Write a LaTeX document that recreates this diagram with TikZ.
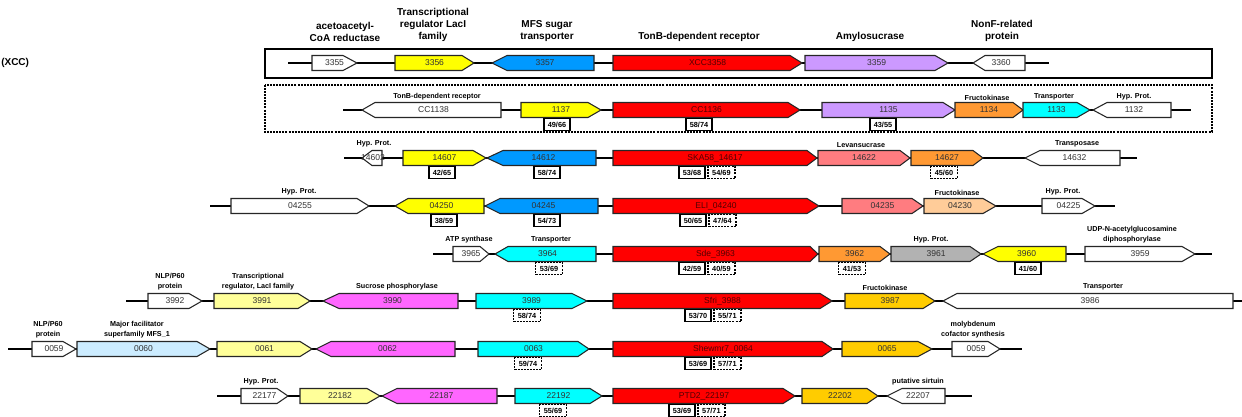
\documentclass[tikz,border=0pt]{standalone}
\usepackage{fontspec}
\setmainfont{Liberation Sans}
\usetikzlibrary{positioning}
\definecolor{cYel}{HTML}{FFFF00}
\definecolor{cBlue}{HTML}{0099FF}
\definecolor{cRed}{HTML}{FF0000}
\definecolor{cDkRed}{HTML}{520000}
\definecolor{cPurple}{HTML}{CC99FF}
\definecolor{cOrange}{HTML}{FF9933}
\definecolor{cCyan}{HTML}{00FFFF}
\definecolor{cSalmon}{HTML}{FF7C80}
\definecolor{cPeach}{HTML}{FFCC99}
\definecolor{cGray}{HTML}{B2B2B2}
\definecolor{cLtYel}{HTML}{FFFF99}
\definecolor{cMagenta}{HTML}{FF66FF}
\definecolor{cGold}{HTML}{FFCC00}
\definecolor{cLtBlue}{HTML}{CCECFF}

\begin{document}
\begin{tikzpicture}[x=0.75pt,y=0.75pt,yscale=-1,xscale=1,
  backbone/.style={line width=1pt,black},
  gene/.style={draw=black!85,line width=0.8pt},
  gtxt/.style={font=\fontsize{6.4}{7}\selectfont,text=black!80,inner sep=0pt},
  rtxt/.style={gtxt,text=cDkRed},
  biglbl/.style={font=\bfseries\fontsize{7.5}{9}\selectfont,align=center,anchor=south,inner sep=0pt},
  lbl/.style={font=\bfseries\fontsize{5.4}{7.5}\selectfont,align=center,anchor=south,inner sep=0pt},
  idsolid/.style={draw,line width=1.3pt,fill=white,minimum width=20pt,minimum height=9pt,inner sep=0pt,font=\bfseries\fontsize{5.5}{6}\selectfont},
  iddot/.style={idsolid,line width=1.2pt,dash pattern=on 1.5pt off 0.8pt},
  frame/.style={line width=1.5pt}]
\useasboundingbox (0,0) rectangle (1242,417);

% frames around the Xanthomonas and Caulobacter clusters
\draw[frame] (265,49) rectangle (1212,78);
\draw[frame,dash pattern=on 1.5pt off 0.8pt] (265,85) rectangle (1212,132);
\node[font=\bfseries\fontsize{7.5}{9}\selectfont,anchor=west,inner sep=0pt] (xcc) at (1,63) {(XCC)};

% backbones
\coordinate (r1a) at (288,63);  \coordinate (r1b) at (1049,63);
\coordinate (r2a) at (343,110); \coordinate (r2b) at (1191,110);
\coordinate (r3a) at (344,158); \coordinate (r3b) at (1137,158);
\coordinate (r4a) at (210,206); \coordinate (r4b) at (1115,206);
\coordinate (r5a) at (433,254); \coordinate (r5b) at (1212,254);
\coordinate (r6a) at (126,301); \coordinate (r6b) at (1242,301);
\coordinate (r7a) at (8,349);   \coordinate (r7b) at (1022,349);
\coordinate (r8a) at (217,396); \coordinate (r8b) at (972,396);
\draw[backbone] (r1a) -- (r1b);
\draw[backbone] (r2a) -- (r2b);
\draw[backbone] (r3a) -- (r3b);
\draw[backbone] (r4a) -- (r4b);
\draw[backbone] (r5a) -- (r5b);
\draw[backbone] (r6a) -- (r6b);
\draw[backbone] (r7a) -- (r7b);
\draw[backbone] (r8a) -- (r8b);

% row 1
\draw[gene,fill=white] (312,55.5) -- (343,55.5) -- (357,63) -- (343,70.5) -- (312,70.5) -- cycle;
\node[gtxt] (g3355) at (334.5,63) {3355};
\draw[gene,fill=cYel] (395,55.5) -- (462,55.5) -- (474,63) -- (462,70.5) -- (395,70.5) -- cycle;
\node[gtxt] (g3356) at (434.5,63) {3356};
\draw[gene,fill=cBlue] (492,63) -- (507,55.5) -- (594,55.5) -- (594,70.5) -- (507,70.5) -- cycle;
\node[gtxt] (g3357) at (545,63) {3357};
\draw[gene,fill=cRed] (613,55.5) -- (790,55.5) -- (802,63) -- (790,70.5) -- (613,70.5) -- cycle;
\node[rtxt] (g3358) at (707.5,63) {XCC3358};
\draw[gene,fill=cPurple] (805,55.5) -- (935,55.5) -- (948,63) -- (935,70.5) -- (805,70.5) -- cycle;
\node[gtxt] (g3359) at (876.5,63) {3359};
\draw[gene,fill=white] (973,63) -- (985,55.5) -- (1025,55.5) -- (1025,70.5) -- (985,70.5) -- cycle;
\node[gtxt] (g3360) at (1001,63) {3360};
\node[biglbl] (l3355) at (345,42) {acetoacetyl-\\CoA reductase};
\node[biglbl] (l3356) at (433,42) {Transcriptional\\regulator LacI\\family};
\node[biglbl] (l3357) at (547,42) {MFS sugar\\transporter};
\node[biglbl] (l3358) at (699,42) {TonB-dependent receptor};
\node[biglbl] (l3359) at (870,42) {Amylosucrase};
\node[biglbl] (l3360) at (1002,42) {NonF-related\\protein};

% row 2
\draw[gene,fill=white] (362,110) -- (375,102.5) -- (501,102.5) -- (501,117.5) -- (375,117.5) -- cycle;
\node[gtxt] (g1138) at (433.5,110) {CC1138};
\draw[gene,fill=cYel] (521,102.5) -- (588,102.5) -- (601,110) -- (588,117.5) -- (521,117.5) -- cycle;
\node[gtxt] (g1137) at (561,110) {1137};
\draw[gene,fill=cRed] (613,102.5) -- (788,102.5) -- (800,110) -- (788,117.5) -- (613,117.5) -- cycle;
\node[rtxt] (g1136) at (706.5,110) {CC1136};
\draw[gene,fill=cPurple] (822,102.5) -- (943,102.5) -- (955,110) -- (943,117.5) -- (822,117.5) -- cycle;
\node[gtxt] (g1135) at (888.5,110) {1135};
\draw[gene,fill=cOrange] (955,102.5) -- (1013,102.5) -- (1023,110) -- (1013,117.5) -- (955,117.5) -- cycle;
\node[gtxt] (g1134) at (989,110) {1134};
\draw[gene,fill=cCyan] (1023,102.5) -- (1077,102.5) -- (1090,110) -- (1077,117.5) -- (1023,117.5) -- cycle;
\node[gtxt] (g1133) at (1056.5,110) {1133};
\draw[gene,fill=white] (1093,110) -- (1107,102.5) -- (1171,102.5) -- (1171,117.5) -- (1107,117.5) -- cycle;
\node[gtxt] (g1132) at (1134,110) {1132};
\node[lbl] (l1138) at (437,100.5) {TonB-dependent receptor};
\node[lbl] (l1134) at (987,100.5) {Fructokinase};
\node[lbl] (l1133) at (1054,100.5) {Transporter};
\node[lbl] (l1132) at (1134,100.5) {Hyp. Prot.};
\node[idsolid] (i1137) at (557,124.5) {49/66};
\node[idsolid] (i1136) at (699,124.5) {58/74};
\node[idsolid] (i1135) at (883,124.5) {43/55};

% row 3
\draw[gene,fill=white] (362,158) -- (372,150.5) -- (382,150.5) -- (382,165.5) -- (372,165.5) -- cycle;
\node[gtxt] (g14602) at (373,158) {14602};
\draw[gene,fill=cYel] (403,150.5) -- (473,150.5) -- (486,158) -- (473,165.5) -- (403,165.5) -- cycle;
\node[gtxt] (g14607) at (444.5,158) {14607};
\draw[gene,fill=cBlue] (487,158) -- (503,150.5) -- (596,150.5) -- (596,165.5) -- (503,165.5) -- cycle;
\node[gtxt] (g14612) at (543.5,158) {14612};
\draw[gene,fill=cRed] (613,150.5) -- (807,150.5) -- (817,158) -- (807,165.5) -- (613,165.5) -- cycle;
\node[rtxt] (g14617) at (715,158) {SKA58\_14617};
\draw[gene,fill=cSalmon] (818,150.5) -- (900,150.5) -- (910,158) -- (900,165.5) -- (818,165.5) -- cycle;
\node[gtxt] (g14622) at (864,158) {14622};
\draw[gene,fill=cOrange] (911,150.5) -- (973,150.5) -- (983,158) -- (973,165.5) -- (911,165.5) -- cycle;
\node[gtxt] (g14627) at (947,158) {14627};
\draw[gene,fill=white] (1025,158) -- (1040,150.5) -- (1120,150.5) -- (1120,165.5) -- (1040,165.5) -- cycle;
\node[gtxt] (g14632) at (1074.5,158) {14632};
\node[lbl] (l14602) at (374,147.5) {Hyp. Prot.};
\node[lbl] (l14622) at (861,147.5) {Levansucrase};
\node[lbl] (l14632) at (1077,147.5) {Transposase};
\node[idsolid] (i14607) at (442,172.5) {42/65};
\node[idsolid] (i14612) at (547,172.5) {58/74};
\node[idsolid] (i14617) at (692,172.5) {53/68};
\node[iddot,right=0.8pt of i14617] (j14617) {54/69};
\node[iddot] (j14627) at (944,172.5) {45/60};

% row 4
\draw[gene,fill=white] (231,198.5) -- (357,198.5) -- (369,206) -- (357,213.5) -- (231,213.5) -- cycle;
\node[gtxt] (g04255) at (300,206) {04255};
\draw[gene,fill=cYel] (395,206) -- (408,198.5) -- (484,198.5) -- (484,213.5) -- (408,213.5) -- cycle;
\node[gtxt] (g04250) at (441.5,206) {04250};
\draw[gene,fill=cBlue] (485,206) -- (500,198.5) -- (598,198.5) -- (598,213.5) -- (500,213.5) -- cycle;
\node[gtxt] (g04245) at (543.5,206) {04245};
\draw[gene,fill=cRed] (613,198.5) -- (807,198.5) -- (819,206) -- (807,213.5) -- (613,213.5) -- cycle;
\node[rtxt] (g04240) at (716,206) {ELI\_04240};
\draw[gene,fill=cSalmon] (842,198.5) -- (912,198.5) -- (923,206) -- (912,213.5) -- (842,213.5) -- cycle;
\node[gtxt] (g04235) at (882.5,206) {04235};
\draw[gene,fill=cPeach] (924,198.5) -- (983,198.5) -- (996,206) -- (983,213.5) -- (924,213.5) -- cycle;
\node[gtxt] (g04230) at (960,206) {04230};
\draw[gene,fill=white] (1042,198.5) -- (1082,198.5) -- (1095,206) -- (1082,213.5) -- (1042,213.5) -- cycle;
\node[gtxt] (g04225) at (1068.5,206) {04225};
\node[lbl] (l04255) at (299,195.5) {Hyp. Prot.};
\node[lbl] (l04230) at (957,195.5) {Fructokinase};
\node[lbl] (l04225) at (1063,195.5) {Hyp. Prot.};
\node[idsolid] (i04250) at (444,220.5) {38/59};
\node[idsolid] (i04245) at (547,220.5) {54/73};
\node[idsolid] (i04240) at (693,220.5) {50/65};
\node[iddot,right=0.8pt of i04240] (j04240) {47/64};

% row 5
\draw[gene,fill=white] (453,246.5) -- (480,246.5) -- (489,254) -- (480,261.5) -- (453,261.5) -- cycle;
\node[gtxt] (g3965) at (471,254) {3965};
\draw[gene,fill=cCyan] (495,254) -- (508,246.5) -- (596,246.5) -- (596,261.5) -- (508,261.5) -- cycle;
\node[gtxt] (g3964) at (547.5,254) {3964};
\draw[gene,fill=cRed] (613,246.5) -- (810,246.5) -- (818,254) -- (810,261.5) -- (613,261.5) -- cycle;
\node[rtxt] (g3963) at (715.5,254) {Sde\_3963};
\draw[gene,fill=cOrange] (819,246.5) -- (880,246.5) -- (890,254) -- (880,261.5) -- (819,261.5) -- cycle;
\node[gtxt] (g3962) at (854.5,254) {3962};
\draw[gene,fill=cGray] (891,246.5) -- (970,246.5) -- (981,254) -- (970,261.5) -- (891,261.5) -- cycle;
\node[gtxt] (g3961) at (936,254) {3961};
\draw[gene,fill=cYel] (983,254) -- (998,246.5) -- (1066,246.5) -- (1066,261.5) -- (998,261.5) -- cycle;
\node[gtxt] (g3960) at (1026.5,254) {3960};
\draw[gene,fill=white] (1085,246.5) -- (1182,246.5) -- (1195,254) -- (1182,261.5) -- (1085,261.5) -- cycle;
\node[gtxt] (g3959) at (1140,254) {3959};
\node[lbl] (l3965) at (469,243.5) {ATP synthase};
\node[lbl] (l3964) at (551,243.5) {Transporter};
\node[lbl] (l3961) at (931,243.5) {Hyp. Prot.};
\node[lbl] (l3959) at (1132,243.5) {UDP-N-acetylglucosamine\\diphosphorylase};
\node[iddot] (j3964) at (549,268.5) {53/69};
\node[idsolid] (i3963) at (692,268.5) {42/59};
\node[iddot,right=0.8pt of i3963] (j3963) {40/59};
\node[iddot] (j3962) at (852,268.5) {41/53};
\node[idsolid] (i3960) at (1028,268.5) {41/60};

% row 6
\draw[gene,fill=white] (148,293.5) -- (189,293.5) -- (202,301) -- (189,308.5) -- (148,308.5) -- cycle;
\node[gtxt] (g3992) at (175,301) {3992};
\draw[gene,fill=cLtYel] (214,293.5) -- (298,293.5) -- (310,301) -- (298,308.5) -- (214,308.5) -- cycle;
\node[gtxt] (g3991) at (262,301) {3991};
\draw[gene,fill=cMagenta] (323,301) -- (339,293.5) -- (458,293.5) -- (458,308.5) -- (339,308.5) -- cycle;
\node[gtxt] (g3990) at (392.5,301) {3990};
\draw[gene,fill=cCyan] (476,293.5) -- (572,293.5) -- (587,301) -- (572,308.5) -- (476,308.5) -- cycle;
\node[gtxt] (g3989) at (531.5,301) {3989};
\draw[gene,fill=cRed] (613,293.5) -- (820,293.5) -- (832,301) -- (820,308.5) -- (613,308.5) -- cycle;
\node[rtxt] (g3988) at (722.5,301) {Sfri\_3988};
\draw[gene,fill=cGold] (845,293.5) -- (923,293.5) -- (935,301) -- (923,308.5) -- (845,308.5) -- cycle;
\node[gtxt] (g3987) at (890,301) {3987};
\draw[gene,fill=white] (943,301) -- (957,293.5) -- (1233,293.5) -- (1233,308.5) -- (957,308.5) -- cycle;
\node[gtxt] (g3986) at (1090,301) {3986};
\node[lbl] (l3992) at (170,290.5) {NLP/P60\\protein};
\node[lbl] (l3991) at (258,290.5) {Transcriptional\\regulator, LacI family};
\node[lbl] (l3990) at (397,290.5) {Sucrose phosphorylase};
\node[lbl] (l3987) at (885,290.5) {Fructokinase};
\node[lbl] (l3986) at (1103,290.5) {Transporter};
\node[iddot] (j3989) at (527,315.5) {58/74};
\node[idsolid] (i3988) at (698,315.5) {53/70};
\node[iddot,right=0.8pt of i3988] (j3988) {55/71};

% row 7
\draw[gene,fill=white] (32,341.5) -- (63,341.5) -- (76,349) -- (63,356.5) -- (32,356.5) -- cycle;
\node[gtxt] (g0059a) at (54,349) {0059};
\draw[gene,fill=cLtBlue] (77,341.5) -- (197,341.5) -- (210,349) -- (197,356.5) -- (77,356.5) -- cycle;
\node[gtxt] (g0060) at (143.5,349) {0060};
\draw[gene,fill=cLtYel] (217,341.5) -- (300,341.5) -- (312,349) -- (300,356.5) -- (217,356.5) -- cycle;
\node[gtxt] (g0061) at (264.5,349) {0061};
\draw[gene,fill=cMagenta] (316,349) -- (331,341.5) -- (455,341.5) -- (455,356.5) -- (331,356.5) -- cycle;
\node[gtxt] (g0062) at (387.5,349) {0062};
\draw[gene,fill=cCyan] (478,341.5) -- (578,341.5) -- (589,349) -- (578,356.5) -- (478,356.5) -- cycle;
\node[gtxt] (g0063) at (533.5,349) {0063};
\draw[gene,fill=cRed] (613,341.5) -- (822,341.5) -- (833,349) -- (822,356.5) -- (613,356.5) -- cycle;
\node[rtxt] (g0064) at (723,349) {Shewmr7\_0064};
\draw[gene,fill=cGold] (842,341.5) -- (918,341.5) -- (932,349) -- (918,356.5) -- (842,356.5) -- cycle;
\node[gtxt] (g0065) at (887,349) {0065};
\draw[gene,fill=white] (952,341.5) -- (988,341.5) -- (1000,349) -- (988,356.5) -- (952,356.5) -- cycle;
\node[gtxt] (g0059b) at (976,349) {0059};
\node[lbl] (l0059a) at (48,338.5) {NLP/P60\\protein};
\node[lbl] (l0060) at (137,338.5) {Major facilitator\\superfamily MFS\_1};
\node[lbl] (l0059b) at (973,338.5) {molybdenum\\cofactor synthesis};
\node[iddot] (j0063) at (528,363.5) {59/74};
\node[idsolid] (i0064) at (698,363.5) {53/69};
\node[iddot,right=0.8pt of i0064] (j0064) {57/71};

% row 8
\draw[gene,fill=white] (241,388.5) -- (277,388.5) -- (288,396) -- (277,403.5) -- (241,403.5) -- cycle;
\node[gtxt] (g22177) at (264.5,396) {22177};
\draw[gene,fill=cLtYel] (300,388.5) -- (367,388.5) -- (380,396) -- (367,403.5) -- (300,403.5) -- cycle;
\node[gtxt] (g22182) at (340,396) {22182};
\draw[gene,fill=cMagenta] (382,396) -- (397,388.5) -- (497,388.5) -- (497,403.5) -- (397,403.5) -- cycle;
\node[gtxt] (g22187) at (441.5,396) {22187};
\draw[gene,fill=cCyan] (515,388.5) -- (590,388.5) -- (602,396) -- (590,403.5) -- (515,403.5) -- cycle;
\node[gtxt] (g22192) at (558.5,396) {22192};
\draw[gene,fill=cRed] (613,388.5) -- (783,388.5) -- (795,396) -- (783,403.5) -- (613,403.5) -- cycle;
\node[rtxt] (g22197) at (704,396) {PTD2\_22197};
\draw[gene,fill=cGold] (802,388.5) -- (867,388.5) -- (878,396) -- (867,403.5) -- (802,403.5) -- cycle;
\node[gtxt] (g22202) at (840,396) {22202};
\draw[gene,fill=white] (887,396) -- (902,388.5) -- (945,388.5) -- (945,403.5) -- (902,403.5) -- cycle;
\node[gtxt] (g22207) at (918,396) {22207};
\node[lbl] (l22177) at (261,385.5) {Hyp. Prot.};
\node[lbl] (l22207) at (918,385.5) {putative sirtuin};
\node[iddot] (j22192) at (553,410.5) {55/69};
\node[idsolid] (i22197) at (682,410.5) {53/69};
\node[iddot,right=0.8pt of i22197] (j22197) {57/71};
\end{tikzpicture}
\end{document}
